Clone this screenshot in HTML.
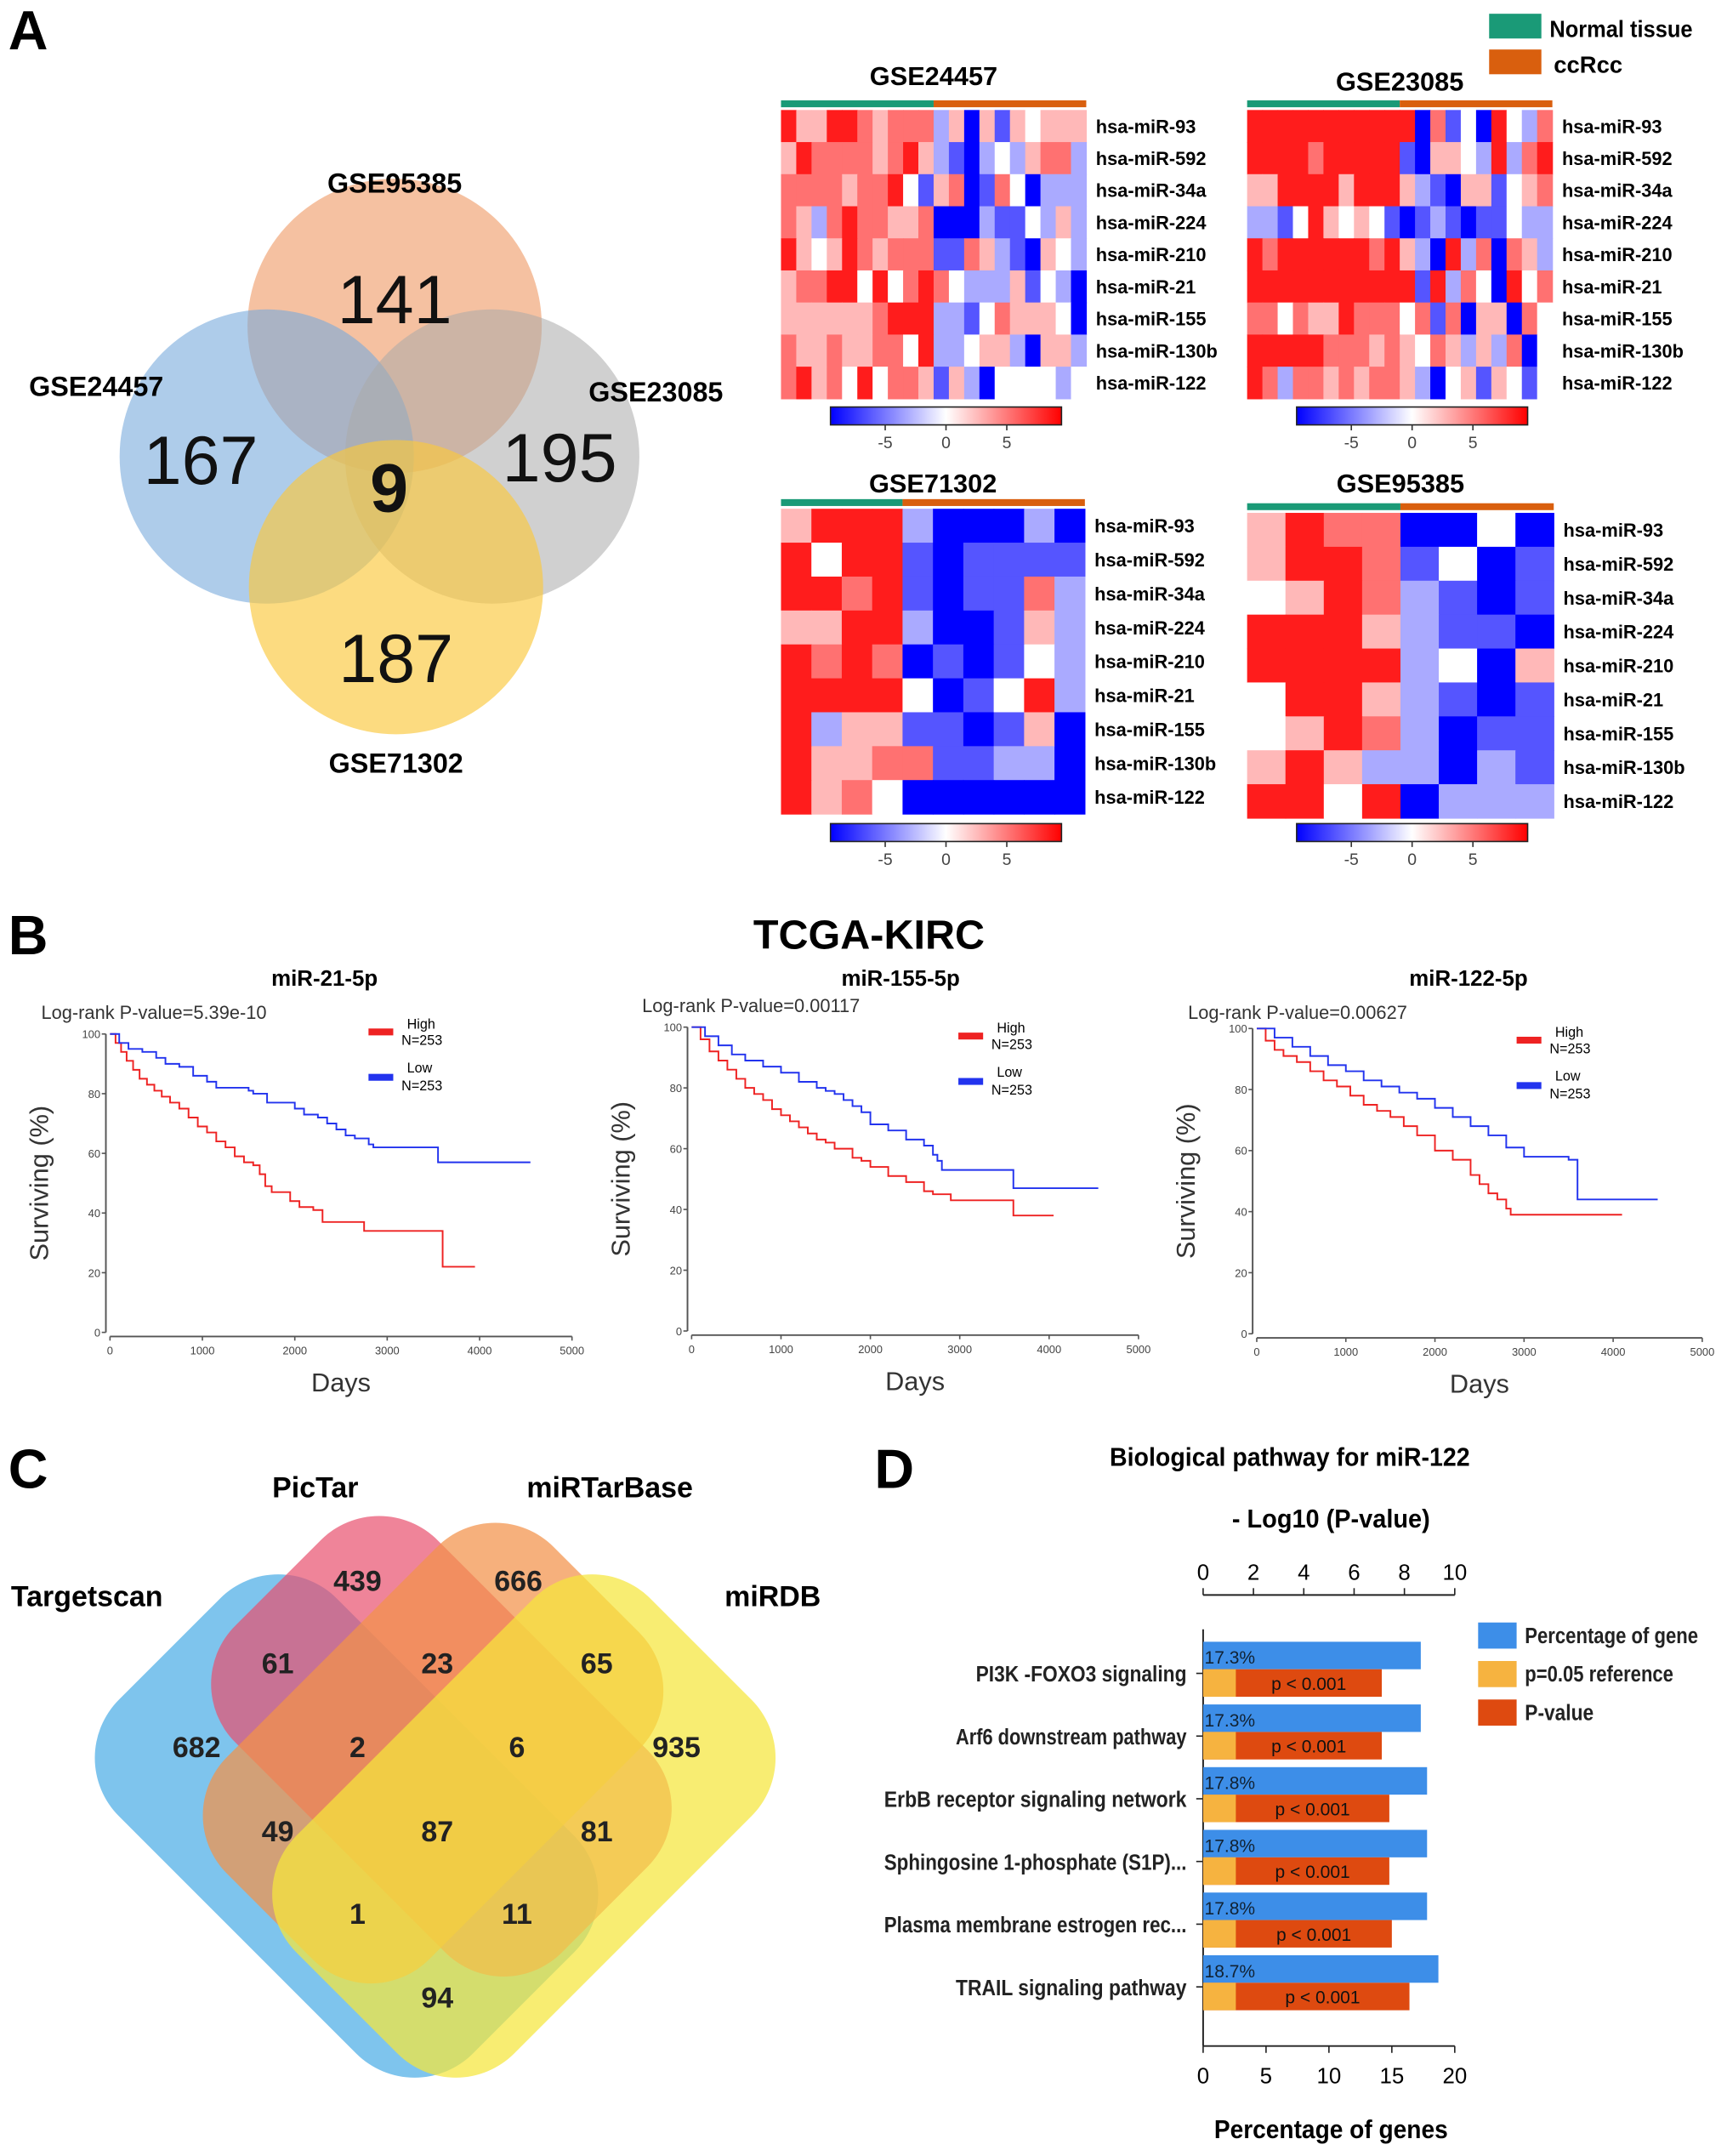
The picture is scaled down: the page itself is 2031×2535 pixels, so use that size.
<!DOCTYPE html>
<html><head><meta charset="utf-8"><style>
html,body{margin:0;padding:0;background:#fff}
svg{display:block}
text{font-family:"Liberation Sans",sans-serif}
</style></head><body>
<svg id="fig" width="2031" height="2535" viewBox="0 0 1256 1568" preserveAspectRatio="none" xmlns="http://www.w3.org/2000/svg">
<rect width="1256" height="1568" fill="#fff"/>
<text x="6" y="36" font-size="40" font-weight="bold">A</text>
<text x="6" y="694" font-size="40" font-weight="bold">B</text>
<text x="6" y="1082" font-size="40" font-weight="bold">C</text>
<text x="636" y="1082" font-size="40" font-weight="bold">D</text>

<g>
<circle cx="287" cy="237" r="107" fill="rgb(240,160,110)" fill-opacity="0.65"/>
<circle cx="194" cy="332" r="107" fill="rgb(120,170,220)" fill-opacity="0.6"/>
<circle cx="358" cy="332" r="107" fill="rgb(170,170,170)" fill-opacity="0.55"/>
<circle cx="288" cy="427" r="107" fill="rgb(250,200,60)" fill-opacity="0.65"/>
<g font-weight="bold" font-size="20" text-anchor="middle">
<text x="287" y="140">GSE95385</text>
<text x="70" y="288">GSE24457</text>
<text x="477" y="292">GSE23085</text>
<text x="288" y="562">GSE71302</text>
</g>
<g font-size="50" text-anchor="middle" fill="#111">
<text x="287" y="235">141</text>
<text x="146" y="352">167</text>
<text x="407" y="350">195</text>
<text x="288" y="496">187</text>
<text x="283" y="372" font-weight="bold">9</text>
</g>
</g>

<rect x="1083" y="10" width="38" height="18" fill="#1a9a77"/>
<text x="1127" y="27" font-size="17" font-weight="bold" textLength="104" lengthAdjust="spacingAndGlyphs">Normal tissue</text>
<rect x="1083" y="36" width="38" height="18" fill="#d95f0e"/>
<text x="1130" y="53" font-size="17" font-weight="bold">ccRcc</text>

<g id="heatmaps"></g>

<text x="632" y="690" font-size="30" font-weight="bold" text-anchor="middle">TCGA-KIRC</text>
<g id="survival"></g>

<g>
<rect x="-182" y="-112" width="364" height="224" rx="60" transform="translate(252,1328) rotate(45)" fill="#5ab4e8" fill-opacity="0.78"/>
<rect x="-168" y="-104" width="336" height="208" rx="60" transform="translate(321,1270) rotate(45)" fill="#e8506e" fill-opacity="0.7"/>
<rect x="-168" y="-104" width="336" height="208" rx="60" transform="translate(315,1275) rotate(-45)" fill="#f3924a" fill-opacity="0.72"/>
<rect x="-182" y="-112" width="364" height="224" rx="60" transform="translate(381,1328) rotate(-45)" fill="#f5e63c" fill-opacity="0.72"/>
<g font-size="21" font-weight="bold">
<text x="8" y="1168">Targetscan</text>
<text x="198" y="1089">PicTar</text>
<text x="383" y="1089">miRTarBase</text>
<text x="527" y="1168">miRDB</text>
</g>
<g font-size="21" font-weight="bold" text-anchor="middle" fill="#222">
<text x="260" y="1157">439</text><text x="377" y="1157">666</text>
<text x="202" y="1217">61</text><text x="318" y="1217">23</text><text x="434" y="1217">65</text>
<text x="143" y="1278">682</text><text x="260" y="1278">2</text><text x="376" y="1278">6</text><text x="492" y="1278">935</text>
<text x="202" y="1339">49</text><text x="318" y="1339">87</text><text x="434" y="1339">81</text>
<text x="260" y="1399">1</text><text x="376" y="1399">11</text>
<text x="318" y="1460">94</text>
</g>
</g>

<g id="barD"></g>
</svg>
<script>
var NS="http://www.w3.org/2000/svg";
function mk(tag,attrs,parent){var e=document.createElementNS(NS,tag);for(var k in attrs)e.setAttribute(k,attrs[k]);parent.appendChild(e);return e;}
function tx(str,attrs,parent){var e=mk('text',attrs,parent);e.textContent=str;return e;}

/* ---------- Heatmaps ---------- */
var genes=["hsa-miR-93","hsa-miR-592","hsa-miR-34a","hsa-miR-224","hsa-miR-210","hsa-miR-21","hsa-miR-155","hsa-miR-130b","hsa-miR-122"];
var levelCodes={R:8,r:5,p:2.5,w:0,l:-3,b:-6,B:-9};
var hmGSE24457=["RppRRrprrrlpBpbpwppp","pRrrrrprRplbBlwlprrl","rrrrprrRwbprBbrwBlll","rplrRrrpprBBBlbbwlpl","RpwpRrprrrbbrplbBpwl","prrRRwRwrRrwlllpbwlB","pppppprRRRllbwrpppwB","rpprpprrwRllwpplBppl","rRprwRwrrpbplBwwwwlw"];
var hmGSE23085=["RRRRRRRRRRRBrbwBRwlr","RRRRrRRRRRbBppwlRlrR","ppRRRRpRRRplbBppbwpr","llbwRpwpwbBblbBbbwll","RrRRRRRRrRplBRlrBrpl","RRRRRRRRRRRbRlrwBRwr","rrwrppRrrrwrbrBppBrw","RRRRRrrrprpwrplplrBw","RrlrrprprrplBwpbpwbw"];
var hmGSE71302=["pRRRlBBBlB","RwRRbBbbbb","RRrRbBbbrl","ppRRlBBbpl","RrRrBbBbwl","RRRRwBbwRl","RlppbbBbpB","RpprrbbllB","RprwBBBBBB"];
var hmGSE95385=["pRrrBBwB","pRRrbwBb","wpRrlbBb","RRRplbbB","RRRRlwBp","wRRplbBb","wpRrlBbb","pRpllBlb","RRwRBlll"];
var cbTicks=[-5,0,5];
function hmColor(v){var t=Math.max(-9,Math.min(9,v))/9;var r,g,b;
 if(t>=0){r=255;g=Math.round(255*(1-t));b=g;}else{b=255;r=Math.round(255*(1+t));g=r;}
 return "rgb("+r+","+g+","+b+")";}
var hmRoot=document.getElementById('heatmaps');
var hmSpecs=[
 {title:"GSE24457",data:hmGSE24457,x:568,y:80,w:222,h:210,split:10,ty:62,cy:296},
 {title:"GSE23085",data:hmGSE23085,x:907,y:80,w:222,h:210,split:10,ty:66,cy:296},
 {title:"GSE71302",data:hmGSE71302,x:568,y:370,w:221,h:222,split:4,ty:358,cy:599},
 {title:"GSE95385",data:hmGSE95385,x:907,y:373,w:223,h:222,split:4,ty:358,cy:599}];
hmSpecs.forEach(function(s){
 var g=mk('g',{},hmRoot);
 
 
 var nc=s.data[0].length,nr=s.data.length,cw=s.w/nc,rh=s.h/nr;
 var t=tx(s.title,{x:s.x+s.w/2,y:s.ty,'font-size':19,'font-weight':'bold','text-anchor':'middle'},g);
 
 
 var sx=s.x+cw*s.split;
 mk('rect',{x:s.x,y:s.y-7,width:sx-s.x,height:5,fill:'#1a9a77'},g);
 mk('rect',{x:sx,y:s.y-7,width:s.x+s.w-sx,height:5,fill:'#d95f0e'},g);
 for(var r=0;r<nr;r++){for(var c=0;c<nc;c++){
  var cell=mk('rect',{x:s.x+c*cw,y:s.y+r*rh,width:cw+0.4,height:rh+0.4,fill:hmColor(levelCodes[s.data[r][c]])},g);
  
  }
  var lb=tx(genes[r],{x:s.x+s.w+7,y:s.y+r*rh+rh/2+5,'font-size':13.5,'font-weight':'bold'},g);
  
  }
 var cbx=s.x+36,cbw=168,cby=s.cy;
 var gid='grad'+s.title;
 var defs=mk('defs',{},g);var lg=mk('linearGradient',{id:gid,x1:0,x2:1,y1:0,y2:0},defs);
 mk('stop',{offset:'0','stop-color':'#0000ff'},lg);mk('stop',{offset:'0.5','stop-color':'#ffffff'},lg);mk('stop',{offset:'1','stop-color':'#ff0000'},lg);
 var cb=mk('rect',{x:cbx,y:cby,width:cbw,height:13,fill:'url(#'+gid+')',stroke:'#222','stroke-width':1},g);
 
 
 cbTicks.forEach(function(v){var px=cbx+cbw/2+v*(cbw/19);
  mk('line',{x1:px,x2:px,y1:cby+13,y2:cby+17,stroke:'#333'},g);
  tx(String(v),{x:px,y:cby+30,'font-size':12,'text-anchor':'middle',fill:'#444'},g);});
});

/* ---------- Survival ---------- */
var survTitles=["miR-21-5p","miR-155-5p","miR-122-5p"];
var survPvals=["Log-rank P-value=5.39e-10","Log-rank P-value=0.00117","Log-rank P-value=0.00627"];
var dayTicks=[0,1000,2000,3000,4000,5000];
var survTicks=[0,20,40,60,80,100];
var high1Days=[0,60,120,180,250,320,400,480,560,650,750,850,950,1050,1150,1250,1350,1450,1550,1620,1680,1750,1900,1950,2050,2200,2300,2750,3600,3950];
var high1Surv=[100,97,94,91,88,85,83,81,79,77,75,72,69,67,64,62,59,57,56,53,49,47,47,44,42,41,37,34,22,22];
var low1Days=[0,100,200,350,500,600,750,900,1050,1150,1500,1550,1700,1900,2000,2100,2250,2350,2450,2550,2650,2800,2850,3550,4550];
var low1Surv=[100,97,95,94,92,90,89,86,84,82,81,80,77,77,75,73,72,70,68,66,65,63,62,57,57];
var high2Days=[0,100,200,300,400,500,600,700,800,900,1000,1100,1200,1300,1400,1500,1600,1800,1900,2000,2200,2400,2600,2700,2900,3600,4050];
var high2Surv=[100,96,92,89,86,83,80,78,76,73,71,69,67,65,63,62,60,57,56,54,51,49,46,45,43,38,38];
var low2Days=[0,150,300,450,600,800,1000,1200,1400,1500,1600,1700,1800,1900,2000,2200,2400,2600,2700,2750,2800,3600,4550];
var low2Surv=[100,97,94,91,89,87,85,82,80,79,78,76,74,72,68,66,63,61,58,56,53,47,47];
var high3Days=[0,100,200,300,450,600,750,900,1050,1200,1350,1500,1650,1800,2000,2200,2400,2500,2600,2700,2800,2850,4100];
var high3Surv=[100,96,93,91,89,86,83,81,78,75,73,71,68,65,60,57,52,49,46,44,41,39,39];
var low3Days=[0,200,400,600,800,1000,1200,1400,1600,1800,2000,2200,2400,2600,2800,3000,3500,3600,4500];
var low3Surv=[100,97,94,91,88,86,83,81,79,77,74,71,68,65,61,58,57,44,44];
var survSeries=[[high1Days,high1Surv,low1Days,low1Surv],[high2Days,high2Surv,low2Days,low2Surv],[high3Days,high3Surv,low3Days,low3Surv]];
var survPanels=[{x0:80,x1:416,y0:969,y1:752,tx:236,ty:717,px:30,py:741,lx:268,ly:745},
 {x0:503,x1:828,y0:968,y1:747,tx:655,ty:717,px:467,py:736,lx:697,ly:748},
 {x0:914,x1:1238,y0:970,y1:748,tx:1068,ty:717,px:864,py:741,lx:1103,ly:751}];
var sRoot=document.getElementById('survival');
survPanels.forEach(function(p,i){
 var g=mk('g',{},sRoot);
 
 
 function X(d){return p.x0+(p.x1-p.x0)*d/5000;}
 function Y(s){return p.y0+(p.y1-p.y0)*s/100;}
 var t=tx(survTitles[i],{x:p.tx,y:p.ty,'font-size':16,'font-weight':'bold','text-anchor':'middle'},g);
 
 
 tx(survPvals[i],{x:p.px,y:p.py,'font-size':13.5,fill:'#333'},g);
 mk('line',{x1:p.x0-3,x2:p.x0-3,y1:Y(100),y2:Y(0),stroke:'#555','stroke-width':1.2},g);
 mk('line',{x1:p.x0,x2:X(5000),y1:p.y0+3,y2:p.y0+3,stroke:'#555','stroke-width':1.2},g);
 survTicks.forEach(function(v){mk('line',{x1:p.x0-6,x2:p.x0-3,y1:Y(v),y2:Y(v),stroke:'#555'},g);
  tx(String(v),{x:p.x0-7,y:Y(v)+3,'font-size':8,'text-anchor':'end',fill:'#444'},g);});
 dayTicks.forEach(function(v){mk('line',{x1:X(v),x2:X(v),y1:p.y0+3,y2:p.y0+6,stroke:'#555'},g);
  tx(String(v),{x:X(v),y:p.y0+16,'font-size':8,'text-anchor':'middle',fill:'#444'},g);});
 var yl=tx("Surviving (%)",{x:0,y:0,'font-size':19,fill:'#333','text-anchor':'middle',transform:'translate('+(p.x0-45)+','+((p.y0+p.y1)/2)+') rotate(-90)'},g);
 
 
 var xl=tx("Days",{x:(X(0)+X(5000))/2,y:p.y0+43,'font-size':19,fill:'#333','text-anchor':'middle'},g);
 
 
 var ser=survSeries[i];
 [[ser[0],ser[1],'#ee2222'],[ser[2],ser[3],'#2233ee']].forEach(function(s,k){
  var d='M'+X(s[0][0])+','+Y(s[1][0]);
  for(var j=1;j<s[0].length;j++){d+=' H'+X(s[0][j])+' V'+Y(s[1][j]);}
  var path=mk('path',{d:d,fill:'none',stroke:s[2],'stroke-width':1.2},g);
  
  });
 mk('rect',{x:p.lx,y:p.ly+3,width:18,height:5,fill:'#ee2222'},g);
 tx("High",{x:p.lx+28,y:p.ly+3,'font-size':10},g);tx("N=253",{x:p.lx+24,y:p.ly+15,'font-size':10},g);
 mk('rect',{x:p.lx,y:p.ly+36,width:18,height:5,fill:'#2233ee'},g);
 tx("Low",{x:p.lx+28,y:p.ly+35,'font-size':10},g);tx("N=253",{x:p.lx+24,y:p.ly+48,'font-size':10},g);
});

/* ---------- Bar chart D ---------- */
var pathways=["PI3K -FOXO3 signaling","Arf6 downstream pathway","ErbB receptor signaling network","Sphingosine 1-phosphate (S1P)...","Plasma membrane estrogen rec...","TRAIL signaling pathway"];
var pctGenes=[17.3,17.3,17.8,17.8,17.8,18.7];
var pctLabels=["17.3%","17.3%","17.8%","17.8%","17.8%","18.7%"];
var logP=[7.1,7.1,7.4,7.4,7.5,8.2];
var refLog=1.3;
var topTicks=[0,2,4,6,8,10];
var botTicks=[0,5,10,15,20];
var bRoot=document.getElementById('barD');
var bx0=875,bx1=1058;
function XP(v){return bx0+(bx1-bx0)*v/20;}
function XL(v){return bx0+(bx1-bx0)*v/10;}
var bg=mk('g',{},bRoot);


tx("Biological pathway for miR-122",{x:938,y:1066,'font-size':19,'font-weight':'bold','text-anchor':'middle',textLength:262,lengthAdjust:'spacingAndGlyphs'},bg);
tx("- Log10 (P-value)",{x:968,y:1111,'font-size':19,'font-weight':'bold','text-anchor':'middle',textLength:144,lengthAdjust:'spacingAndGlyphs'},bg);
tx("Percentage of genes",{x:968,y:1555,'font-size':19,'font-weight':'bold','text-anchor':'middle',textLength:170,lengthAdjust:'spacingAndGlyphs'},bg);
mk('line',{x1:bx0,x2:bx1,y1:1160,y2:1160,stroke:'#222','stroke-width':1.2},bg);
mk('line',{x1:bx0,x2:bx1,y1:1488,y2:1488,stroke:'#222','stroke-width':1.2},bg);
mk('line',{x1:bx0,x2:bx0,y1:1185,y2:1488,stroke:'#222','stroke-width':1.2},bg);
topTicks.forEach(function(v){mk('line',{x1:XL(v),x2:XL(v),y1:1160,y2:1155,stroke:'#222'},bg);
 tx(String(v),{x:XL(v),y:1149,'font-size':16,'text-anchor':'middle'},bg);});
botTicks.forEach(function(v){mk('line',{x1:XP(v),x2:XP(v),y1:1488,y2:1493,stroke:'#222'},bg);
 tx(String(v),{x:XP(v),y:1515,'font-size':16,'text-anchor':'middle'},bg);});
pathways.forEach(function(name,i){
 var yc=1217+i*45.6;
 mk('line',{x1:bx0-5,x2:bx0,y1:yc,y2:yc,stroke:'#222'},bg);
 var lab=tx(name,{x:bx0-12,y:yc+6,'font-size':16,'text-anchor':'end','font-weight':'bold',fill:'#222',textLength:Math.min(220,name.length*7.3),lengthAdjust:'spacingAndGlyphs'},bg);
 
 
 var b1=mk('rect',{x:bx0,y:yc-23,width:XP(pctGenes[i])-bx0,height:20,fill:'#3d8ee8'},bg);
 
 
 tx(pctLabels[i],{x:bx0+1,y:yc-7,'font-size':13,fill:'#123'},bg);
 var b2=mk('rect',{x:bx0,y:yc-3,width:XL(logP[i])-bx0,height:20,fill:'#de4a10'},bg);
 
 
 var b3=mk('rect',{x:bx0,y:yc-3,width:XL(refLog)-bx0,height:20,fill:'#f6b340'},bg);
 
 
 tx("p < 0.001",{x:(XL(refLog)+XL(logP[i]))/2,y:yc+12,'font-size':13,'text-anchor':'middle',fill:'#111'},bg);
});
var legItems=[["Percentage of gene","#3d8ee8",126],["p=0.05 reference","#f6b340",108],["P-value","#de4a10",50]];
legItems.forEach(function(it,i){
 var y=1180+i*28;
 var sw=mk('rect',{x:1075,y:y,width:28,height:19,fill:it[1]},bg);
 
 
 tx(it[0],{x:1109,y:y+15,'font-size':16,'font-weight':'bold',fill:'#222',textLength:it[2],lengthAdjust:'spacingAndGlyphs'},bg);
});
</script>
</body></html>
